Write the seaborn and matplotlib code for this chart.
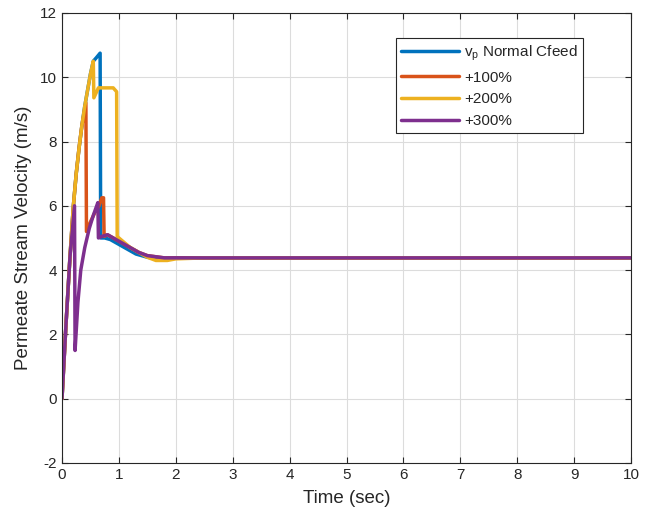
import matplotlib
matplotlib.use("Agg")
import matplotlib.pyplot as plt
import seaborn as sns
import pandas as pd

# Permeate stream velocity responses (time in s, velocity in m/s)
t_normal = [0.0, 0.07, 0.14, 0.2, 0.25, 0.3, 0.35, 0.4, 0.45, 0.5, 0.55, 0.6, 0.67,
            0.68, 0.75, 0.85, 1.0, 1.15, 1.3, 1.5, 1.7, 2.0, 10.0]
v_normal = [0.0, 2.3, 4.4, 6.0, 7.0, 7.8, 8.5, 9.1, 9.6, 10.1, 10.5, 10.6, 10.75,
            5.0, 5.0, 4.95, 4.8, 4.65, 4.5, 4.4, 4.35, 4.38, 4.38]

t_100 = [0.0, 0.07, 0.14, 0.2, 0.25, 0.3, 0.35, 0.42, 0.43, 0.5, 0.58, 0.65, 0.7,
         0.73, 0.74, 0.8, 0.9, 1.05, 1.2, 1.35, 1.5, 1.8, 10.0]
v_100 = [0.0, 2.3, 4.4, 6.0, 7.0, 7.8, 8.5, 9.2, 5.2, 5.5, 5.8, 6.0, 6.25,
         6.25, 5.05, 5.1, 5.0, 4.85, 4.7, 4.55, 4.45, 4.38, 4.38]

t_200 = [0.0, 0.07, 0.14, 0.2, 0.25, 0.3, 0.35, 0.4, 0.45, 0.5, 0.55, 0.56, 0.64,
         0.9, 0.96, 0.97, 1.0, 1.1, 1.2, 1.35, 1.5, 1.65, 1.85, 2.0, 2.5, 10.0]
v_200 = [0.0, 2.3, 4.4, 6.0, 7.0, 7.8, 8.5, 9.1, 9.6, 10.1, 10.5, 9.36, 9.67,
         9.67, 9.55, 5.05, 5.0, 4.85, 4.7, 4.55, 4.4, 4.3, 4.3, 4.35, 4.38, 4.38]

t_300 = [0.0, 0.07, 0.14, 0.22, 0.23, 0.28, 0.33, 0.4, 0.48, 0.55, 0.62, 0.63,
         0.64, 0.7, 0.8, 0.9, 1.05, 1.2, 1.35, 1.5, 1.8, 10.0]
v_300 = [0.0, 2.3, 4.4, 6.0, 1.5, 3.0, 4.0, 4.7, 5.3, 5.7, 6.05, 6.1,
         5.0, 5.05, 5.1, 5.0, 4.85, 4.7, 4.55, 4.45, 4.38, 4.38]

series_names = [r"v$_\mathregular{p}$ Normal Cfeed", "+100%", "+200%", "+300%"]
series_colors = ["#0072BD", "#D95319", "#EDB120", "#7E2F8E"]

frames = []
for name, t, v in zip(series_names, [t_normal, t_100, t_200, t_300],
                      [v_normal, v_100, v_200, v_300]):
    frames.append(pd.DataFrame({"time": t, "velocity": v, "case": name}))
df = pd.concat(frames, ignore_index=True)

sns.set_style("white")
plt.rcParams["font.family"] = ["Liberation Sans", "DejaVu Sans"]
plt.rcParams["axes.unicode_minus"] = False

fig = plt.figure(figsize=(6.56, 5.19), dpi=100)
ax = fig.add_axes([0.0945, 0.108, 0.8675, 0.867])

sns.lineplot(data=df, x="time", y="velocity", hue="case", hue_order=series_names,
             palette=series_colors, estimator=None, sort=False, linewidth=2.5, ax=ax)

ax.set_xlim(0, 10)
ax.set_ylim(-2, 12)
ax.set_xticks(range(0, 11))
ax.set_yticks(range(-2, 13, 2))
ax.grid(True, color="#dcdcdc", linewidth=0.8)
ax.set_axisbelow(True)
for s in ax.spines.values():
    s.set_color("#262626")
    s.set_linewidth(0.8)
    s.set_visible(True)
ax.tick_params(direction="in", length=4, width=0.8, colors="#262626",
               labelsize=11, top=True, right=True, bottom=True, left=True,
               labeltop=False, labelright=False)
ax.set_xlabel("Time (sec)", fontsize=13.5, color="#262626", labelpad=6)
ax.set_ylabel("Permeate Stream Velocity (m/s)", fontsize=13.5, color="#262626", labelpad=6)

leg = ax.legend(loc="upper right", bbox_to_anchor=(0.916, 0.944), borderaxespad=0,
                fontsize=11, frameon=True, fancybox=False, framealpha=1,
                edgecolor="#262626", handlelength=3.8, borderpad=0.35,
                labelspacing=0.5, handletextpad=0.35)
leg.get_frame().set_linewidth(0.8)
for line in leg.get_lines():
    line.set_linewidth(2.5)

fig.savefig("out.png", dpi=100)
